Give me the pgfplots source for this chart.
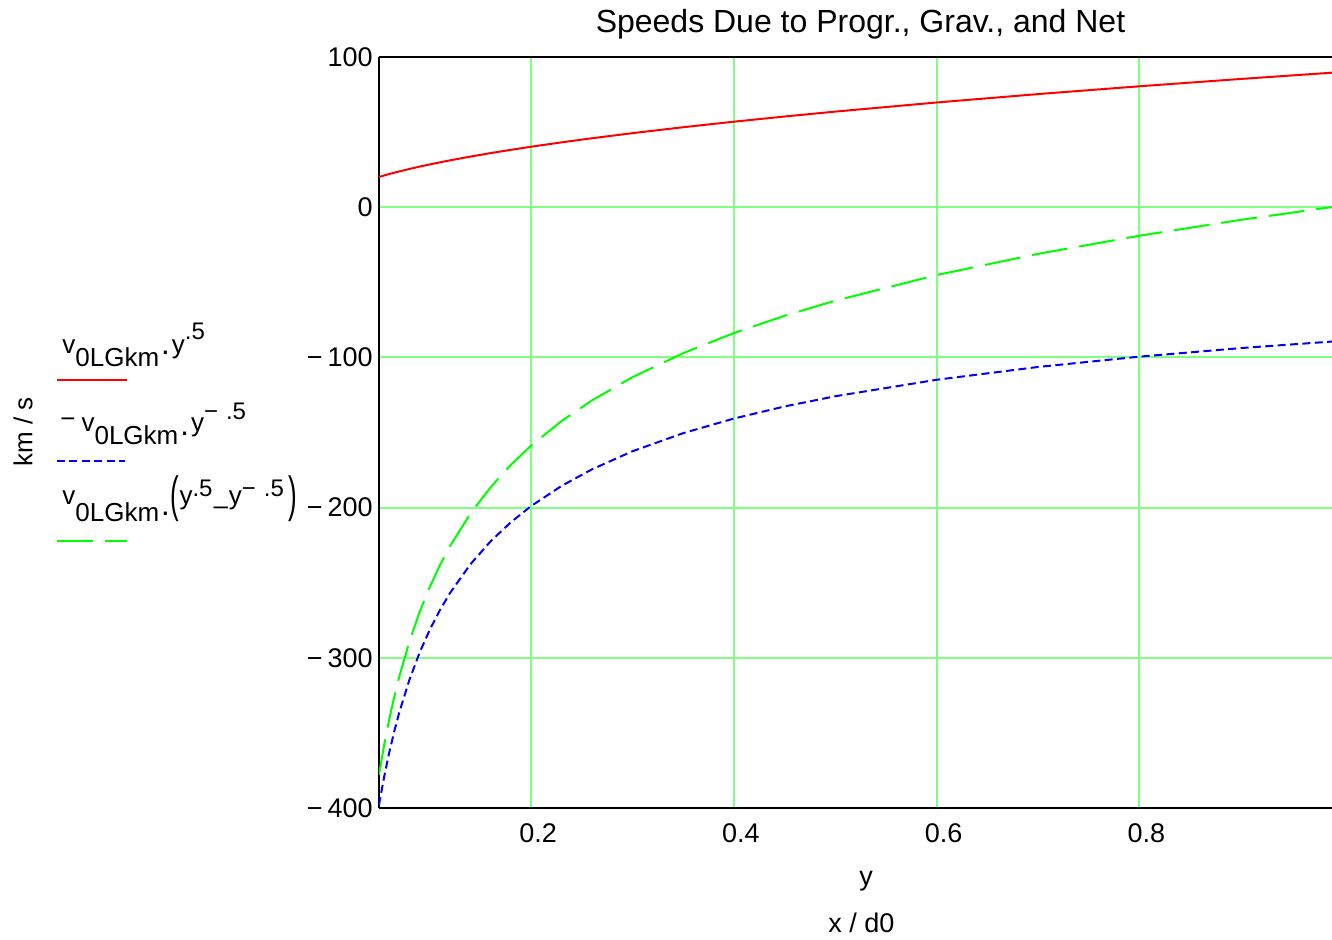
\documentclass[border=0pt]{standalone}
\usepackage{fontspec}
\setmainfont{Liberation Sans}
\usepackage{graphicx}
\usepackage{pgfplots}
\pgfplotsset{compat=1.18}
\definecolor{gridgreen}{RGB}{128,255,128}
\definecolor{lgreen}{RGB}{0,255,0}
\definecolor{lred}{RGB}{255,0,0}
\definecolor{lblue}{RGB}{0,0,255}
\newcommand{\fsz}[1]{\fontsize{#1}{#1}\selectfont}
\newcommand{\mdot}[1]{\raisebox{#1}{\fsz{16}·}}

\begin{document}
\begin{tikzpicture}[x=1pt,y=1pt]
\begin{axis}[
  width=476.5pt, height=375.5pt, scale only axis,
  xmin=0.05, xmax=0.99, ymin=-400, ymax=100,
  axis x line*=box, axis y line*=left,
  axis line style={-, line width=1pt, black},
  xtick={0.2,0.4,0.6,0.8}, xticklabels={0.2,0.4,0.6,0.8},
  ytick={-400,-300,-200,-100,0,100},
  yticklabels={−\kern2.5pt400,−\kern2.5pt300,−\kern2.5pt200,−\kern2.5pt100,0,100},
  major tick length=0pt,
  grid=major, grid style={gridgreen, line width=1pt},
  tick label style={font=\fsz{13.5}, inner sep=0pt},
  xticklabel style={anchor=north, yshift=-7.5pt, xshift=3.5pt},
  yticklabel style={anchor=east, xshift=-3pt},
]
\addplot[lred, line width=1pt] coordinates {
(0.05,20.12) (0.055,21.11) (0.06,22.05) (0.065,22.95) (0.07,23.81) (0.08,25.46)
(0.09,27.00) (0.10,28.46) (0.11,29.85) (0.12,31.18) (0.14,33.68) (0.16,36.00)
(0.18,38.18) (0.20,40.25) (0.23,43.16) (0.26,45.89) (0.30,49.29) (0.35,53.24)
(0.40,56.92) (0.45,60.37) (0.50,63.64) (0.60,69.71) (0.70,75.30) (0.80,80.50)
(0.90,85.38) (0.99,89.55)
};
\addplot[lblue, line width=1pt, dash pattern=on 4pt off 2.2pt] coordinates {
(0.05,-398.02) (0.055,-379.50) (0.06,-363.34) (0.065,-349.09) (0.07,-336.38) (0.08,-314.67)
(0.09,-296.67) (0.10,-281.44) (0.11,-268.35) (0.12,-256.92) (0.14,-237.86) (0.16,-222.50)
(0.18,-209.78) (0.20,-199.01) (0.23,-185.58) (0.26,-174.54) (0.30,-162.49) (0.35,-150.44)
(0.40,-140.72) (0.45,-132.67) (0.50,-125.87) (0.60,-114.90) (0.70,-106.38) (0.80,-99.51)
(0.90,-93.81) (0.99,-89.45)
};
\addplot[lgreen, line width=1pt, dash pattern=on 18pt off 6pt] coordinates {
(0.05,-377.90) (0.055,-358.39) (0.06,-341.29) (0.065,-326.14) (0.07,-312.57) (0.08,-289.21)
(0.09,-269.67) (0.10,-252.98) (0.11,-238.50) (0.12,-225.74) (0.14,-204.18) (0.16,-186.50)
(0.18,-171.60) (0.20,-158.76) (0.23,-142.42) (0.26,-128.65) (0.30,-113.20) (0.35,-97.20)
(0.40,-83.80) (0.45,-72.30) (0.50,-62.23) (0.60,-45.19) (0.70,-31.08) (0.80,-19.01)
(0.90,-8.43) (0.99,0.10)
};
\coordinate (O) at (rel axis cs:0,0);
\end{axis}
\begin{scope}[shift={(O)}]
  % title
  \node[anchor=base, inner sep=0pt, font=\fsz{16}] at (240.75,387.5) {Speeds Due to Progr., Grav., and Net};
  % x labels
  \node[anchor=base, inner sep=0pt, font=\fsz{13.5}] at (243.5,-39) {y};
  \node[anchor=base, inner sep=0pt, font=\fsz{13.5}] at (241.25,-62.5) {x / d0};
  % y label
  \node[rotate=90, inner sep=0pt, font=\fsz{13}] at (-178,188) {km / s};
  % legend entry 1
  \node[anchor=base west, inner sep=0pt, font=\fsz{13}] at (-158.5,227)
    {v\raisebox{-6.5pt}{0LGkm}\kern0.5pt\mdot{-3.8pt}\kern0.5pt y\raisebox{7pt}{\fsz{12}.5}};
  \draw[lred, line width=1pt] (-161,214) -- (-126,214);
  % legend entry 2
  \node[anchor=base west, inner sep=0pt, font=\fsz{13}] at (-159.5,188)
    {\raisebox{2pt}{−}\kern3pt v\raisebox{-6.5pt}{0LGkm}\kern0.5pt\mdot{-5.5pt}\kern0.5pt y\raisebox{6pt}{\fsz{12}−\kern4pt.5}};
  \draw[lblue, line width=1pt, dash pattern=on 4pt off 2.2pt] (-161,173.5) -- (-127,173.5);
  % legend entry 3
  \node[anchor=base west, inner sep=0pt, font=\fsz{13}] at (-158.5,151.5)
    {v\raisebox{-8.5pt}{0LGkm}\kern0.5pt\mdot{-9pt}\raisebox{-3.5pt}{\scalebox{1}[1.9]{(}}y\raisebox{4pt}{\fsz{12}.5}\kern0.5pt\raisebox{-5pt}{–}\kern0.5pt y\raisebox{4pt}{\fsz{12}−\kern4pt.5}\kern2pt\raisebox{-3.5pt}{\scalebox{1}[1.9]{)}}};
  \draw[lgreen, line width=1pt, dash pattern=on 18pt off 6pt] (-161,133.5) -- (-126,133.5);
  \pgfresetboundingbox
  \path[use as bounding box] (-189.5,-66) rectangle (476.5,404);
\end{scope}
\end{tikzpicture}
\end{document}
